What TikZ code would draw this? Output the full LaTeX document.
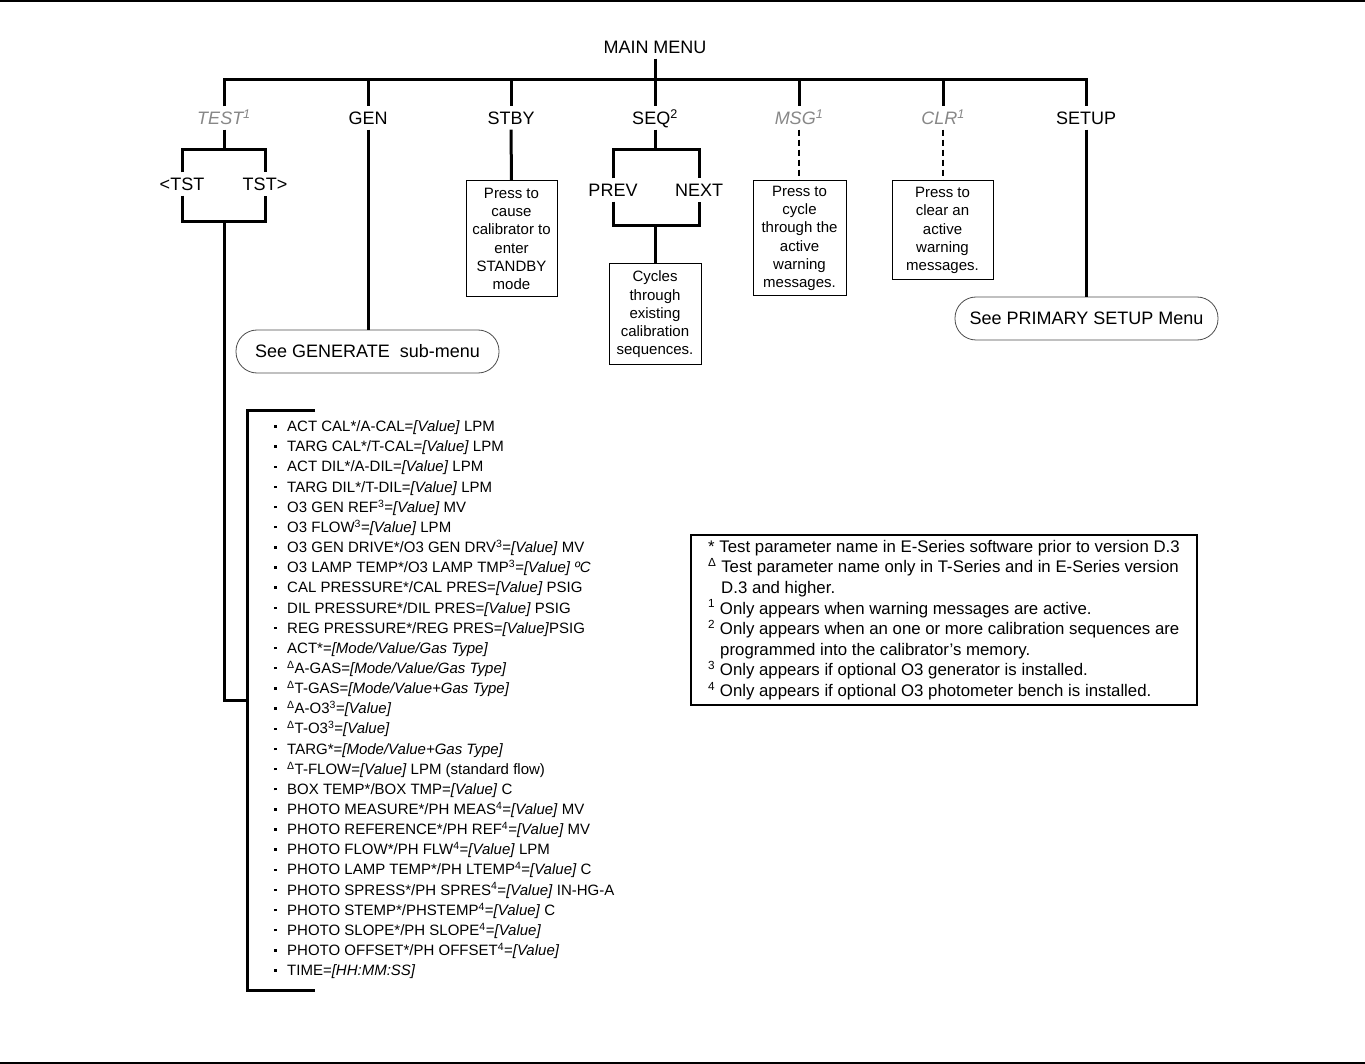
\documentclass[tikz,border=0pt]{standalone}
\usepackage{fontspec}
\setmainfont{Liberation Sans}
\usepackage{tikz}
\definecolor{optgray}{RGB}{135,135,135}
\newcommand{\itm}{\makebox[13pt][l]{\raisebox{4pt}{\rule{2.4pt}{2.4pt}}}}

\begin{document}
\begin{tikzpicture}[x=1pt,y=-1pt,
  bar/.style={line width=3pt},
  dashbar/.style={line width=2pt,dash pattern=on 6pt off 4pt},
  menu/.style={font=\fontsize{18}{20}\selectfont,inner sep=0pt,inner ysep=5pt,text height=13pt,text depth=0pt},
  optmenu/.style={menu,text=optgray,font=\fontsize{18}{20}\selectfont\itshape},
  infobox/.style={draw,line width=1pt,align=center,inner sep=0pt,font=\fontsize{15}{18.3}\selectfont},
  seebox/.style={draw=black!70,line width=0.8pt,rounded corners=21pt,inner sep=0pt,font=\fontsize{18}{20}\selectfont}]
\useasboundingbox (0,0) rectangle (1365,1064);
\draw[line width=2pt] (0,1) -- (1365,1);
\draw[line width=2pt] (0,1062.5) -- (1365,1062.5);

% main menu and its keys
\node[menu] (main) at (655,47) {MAIN MENU};
\coordinate (barR) at (1086,80);
\node[optmenu] (test) at (224,118) {TEST\textsuperscript{1}};
\node[menu] (gen) at (368,118) {GEN};
\node[menu] (stby) at (511,118) {STBY};
\node[menu] (seq) at (655,118) {SEQ\textsuperscript{2}};
\node[optmenu] (msg) at (799,118) {MSG\textsuperscript{1}};
\node[optmenu] (clr) at (943,118) {CLR\textsuperscript{1}};
\node[menu] (setup) at (1086,118) {SETUP};
\draw[bar] (main.south) -- (seq.north);
\draw[bar] (test.north) |- (barR) -- (setup.north);
\draw[bar] (gen.north |- barR) -- (gen.north);
\draw[bar] (stby.north |- barR) -- (stby.north);
\draw[bar] (msg.north |- barR) -- (msg.north);
\draw[bar] (clr.north |- barR) -- (clr.north);

% TEST
\coordinate (tstT) at (224,150);
\coordinate (tstB) at (224,222);
\node[menu] (ltst) at (182,184) {<TST};
\node[menu] (rtst) at (265,184) {TST>};
\draw[bar] (test.south) -- (tstT);
\draw[bar] (ltst.north) |- (tstT) -| (rtst.north);
\draw[bar] (ltst.south) |- (tstB) -| (rtst.south);
\coordinate (brM) at (247,700);
\coordinate (brT) at (315,410);
\coordinate (brB) at (315,990);
\draw[bar] (tstB) |- (brM);
\draw[bar] (brT) -| (brM) |- (brB);

% GEN
\node[seebox,minimum width=263,minimum height=43] (gensub) at (367.5,351.5) {See GENERATE\ \ sub-menu};
\draw[bar] (gen.south) -- (gen.south |- gensub.north);

% STBY
\node[infobox,minimum width=91,minimum height=116] (stbybox) at (511.5,239) {Press to\\cause\\calibrator to\\enter\\STANDBY\\mode};
\draw[bar] (stby.south) -- (stbybox.north);

% SEQ
\coordinate (seqT) at (655,150);
\coordinate (seqB) at (655,226);
\node[menu] (prev) at (613,190) {PREV};
\node[menu] (next) at (699,190) {NEXT};
\draw[bar] (seq.south) -- (seqT);
\draw[bar] (prev.north) |- (seqT) -| (next.north);
\draw[bar] (prev.south) |- (seqB) -| (next.south);
\node[infobox,minimum width=92,minimum height=101] (seqbox) at (655,314.5) {Cycles\\through\\existing\\calibration\\sequences.};
\draw[bar] (seqB) -- (seqbox.north);

% MSG and CLR
\node[infobox,minimum width=93,minimum height=115] (msgbox) at (799.5,238.5) {Press to\\cycle\\through the\\active\\warning\\messages.};
\draw[dashbar] (msg.south) -- (msg.south |- msgbox.north);
\node[infobox,minimum width=101,minimum height=99] (clrbox) at (942.5,230.5) {Press to\\clear an\\active\\warning\\messages.};
\draw[dashbar] (clr.south) -- (clr.south |- clrbox.north);

% SETUP
\node[seebox,minimum width=263,minimum height=43] (setupsub) at (1086.5,318.5) {See PRIMARY SETUP Menu};
\draw[bar] (setup.south) -- (setup.south |- setupsub.north);

% test parameters
\node[anchor=north west,inner sep=0pt,align=left,font=\fontsize{15}{20.15}\selectfont] (params) at (274,420.6) {%
\itm ACT CAL*/A-CAL=\textit{[Value]} LPM\\
\itm TARG CAL*/T-CAL=\textit{[Value]} LPM\\
\itm ACT DIL*/A-DIL=\textit{[Value]} LPM\\
\itm TARG DIL*/T-DIL=\textit{[Value]} LPM\\
\itm O3 GEN REF\textsuperscript{3}=\textit{[Value]} MV\\
\itm O3 FLOW\textsuperscript{3}=\textit{[Value]} LPM\\
\itm O3 GEN DRIVE*/O3 GEN DRV\textsuperscript{3}=\textit{[Value]} MV\\
\itm O3 LAMP TEMP*/O3 LAMP TMP\textsuperscript{3}=\textit{[Value] ºC}\\
\itm CAL PRESSURE*/CAL PRES=\textit{[Value]} PSIG\\
\itm DIL PRESSURE*/DIL PRES=\textit{[Value]} PSIG\\
\itm REG PRESSURE*/REG PRES=\textit{[Value]}PSIG\\
\itm ACT*=\textit{[Mode/Value/Gas Type]}\\
\itm \textsuperscript{Δ}A-GAS=\textit{[Mode/Value/Gas Type]}\\
\itm \textsuperscript{Δ}T-GAS=\textit{[Mode/Value+Gas Type]}\\
\itm \textsuperscript{Δ}A-O3\textsuperscript{3}=\textit{[Value]}\\
\itm \textsuperscript{Δ}T-O3\textsuperscript{3}=\textit{[Value]}\\
\itm TARG*=\textit{[Mode/Value+Gas Type]}\\
\itm \textsuperscript{Δ}T-FLOW=\textit{[Value]} LPM (standard flow)\\
\itm BOX TEMP*/BOX TMP=\textit{[Value]} C\\
\itm PHOTO MEASURE*/PH MEAS\textsuperscript{4}=\textit{[Value]} MV\\
\itm PHOTO REFERENCE*/PH REF\textsuperscript{4}=\textit{[Value]} MV\\
\itm PHOTO FLOW*/PH FLW\textsuperscript{4}=\textit{[Value]} LPM\\
\itm PHOTO LAMP TEMP*/PH LTEMP\textsuperscript{4}=\textit{[Value]} C\\
\itm PHOTO SPRESS*/PH SPRES\textsuperscript{4}=\textit{[Value]} IN-HG-A\\
\itm PHOTO STEMP*/PHSTEMP\textsuperscript{4}=\textit{[Value]} C\\
\itm PHOTO SLOPE*/PH SLOPE\textsuperscript{4}=\textit{[Value]}\\
\itm PHOTO OFFSET*/PH OFFSET\textsuperscript{4}=\textit{[Value]}\\
\itm TIME=\textit{[HH:MM:SS]}};

% footnotes
\node[draw,line width=2.5pt,minimum width=506,minimum height=170,align=left,font=\fontsize{16.8}{20.6}\selectfont] (notes) at (944,620) {%
* Test parameter name in E-Series software prior to version D.3\\
\textsuperscript{Δ} Test parameter name only in T-Series and in E-Series version\\
\hspace*{13pt}D.3 and higher.\\
\textsuperscript{1} Only appears when warning messages are active.\\
\textsuperscript{2} Only appears when an one or more calibration sequences are\\
\hspace*{12pt}programmed into the calibrator’s memory.\\
\textsuperscript{3} Only appears if optional O3 generator is installed.\\
\textsuperscript{4} Only appears if optional O3 photometer bench is installed.};
\end{tikzpicture}
\end{document}
